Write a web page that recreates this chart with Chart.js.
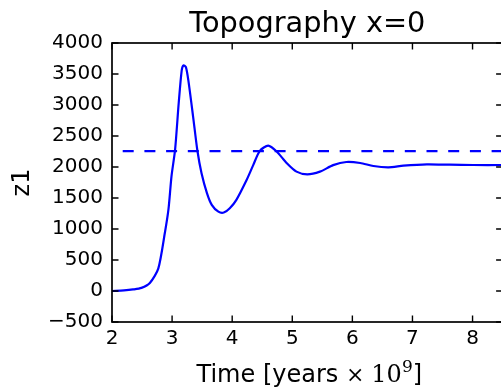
<!DOCTYPE html>
<html>
<head>
<meta charset="utf-8">
<script src="https://cdn.jsdelivr.net/npm/chart.js@4/dist/chart.umd.min.js"></script>
<style>
  html, body { margin: 0; padding: 0; background: #ffffff; overflow: hidden; }
  #wrap { width: 510px; height: 389px; }
</style>
</head>
<body>
<div id="wrap"><canvas id="c" width="510" height="389"></canvas></div>
<script>
// Surface elevation z1 at x=0 over time (Gyr)
const times = [2.00, 2.20, 2.35, 2.49, 2.63, 2.77, 2.88, 2.94, 2.99, 3.05,
               3.11, 3.16, 3.19, 3.23, 3.27, 3.35, 3.42, 3.49, 3.58, 3.66,
               3.77, 3.86, 3.96, 4.07, 4.24, 4.35, 4.46, 4.60, 4.74, 4.91,
               5.07, 5.25, 5.46, 5.68, 5.90, 6.13, 6.35, 6.60, 6.85, 7.24,
               7.62, 8.01, 8.50];
const z1 = [0, 10, 25, 50, 130, 360, 940, 1320, 1850, 2280,
            3030, 3560, 3640, 3610, 3400, 2810, 2270, 1900, 1580, 1390,
            1280, 1265, 1335, 1470, 1790, 2030, 2260, 2345, 2250, 2060,
            1925, 1882, 1925, 2030, 2081, 2065, 2016, 1995, 2021, 2043,
            2037, 2032, 2032];
const refLevel = 2255;      // reference elevation (dashed)
const xRange = [2, 8.5];
const yRange = [-500, 4000];
const xTicks = [2, 3, 4, 5, 6, 7, 8];
const yTicks = [-500, 0, 500, 1000, 1500, 2000, 2500, 3000, 3500, 4000];

const titleText = 'Topography x=0';
const yLabel = 'z1';

const SANS = '"DejaVu Sans", sans-serif';
const SERIF = '"DejaVu Serif", serif';

// Inward tick marks on all four sides plus the axes frame
const framePlugin = {
  id: 'frame',
  afterDatasetsDraw(chart) {
    const { ctx, chartArea: a, scales } = chart;
    const len = 6.5;
    ctx.save();
    ctx.strokeStyle = '#000000';
    ctx.lineWidth = 1.4;
    ctx.beginPath();
    xTicks.forEach(v => {
      const px = scales.x.getPixelForValue(v);
      ctx.moveTo(px, a.bottom); ctx.lineTo(px, a.bottom - len);
      ctx.moveTo(px, a.top); ctx.lineTo(px, a.top + len);
    });
    yTicks.forEach(v => {
      const py = scales.y.getPixelForValue(v);
      ctx.moveTo(a.left, py); ctx.lineTo(a.left + len, py);
      ctx.moveTo(a.right, py); ctx.lineTo(a.right - len, py);
    });
    ctx.stroke();
    ctx.lineWidth = 1.7;
    ctx.strokeRect(a.left, a.top, a.right - a.left, a.bottom - a.top);
    ctx.restore();
  }
};

// Title above the axes and the x-axis label with its math part
const textPlugin = {
  id: 'texts',
  afterDraw(chart) {
    const { ctx, chartArea: a } = chart;
    const cx = (a.left + a.right) / 2;
    ctx.save();
    ctx.fillStyle = '#000000';
    ctx.textBaseline = 'alphabetic';

    ctx.font = '28.8px ' + SANS;
    ctx.textAlign = 'center';
    ctx.fillText(titleText, cx, 32);

    ctx.textAlign = 'left';
    const parts = [
      { t: 'Time [years ', f: '24px ' + SANS, dy: 0 },
      { t: '\u00d7 ', f: '22px ' + SERIF, dy: 0 },
      { t: '10', f: '24px ' + SERIF, dy: 0 },
      { t: '9', f: '17px ' + SERIF, dy: -10 },
      { t: ']', f: '24px ' + SANS, dy: 0 }
    ];
    let total = 0;
    parts.forEach(p => { ctx.font = p.f; p.w = ctx.measureText(p.t).width; total += p.w; });
    let x = cx + 2 - total / 2;
    const base = 382;
    parts.forEach(p => {
      ctx.font = p.f;
      ctx.fillText(p.t, x, base + p.dy);
      x += p.w;
    });
    ctx.restore();
  }
};

const fmt = v => (v < 0 ? '\u2212' + Math.abs(v) : String(v));

new Chart(document.getElementById('c'), {
  type: 'line',
  data: {
    datasets: [
      {
        data: times.map((t, i) => ({ x: t, y: z1[i] })),
        borderColor: '#0000ff',
        borderWidth: 2.2,
        pointRadius: 0,
        tension: 0.25,
        fill: false
      },
      {
        data: [{ x: xRange[0], y: refLevel }, { x: xRange[1], y: refLevel }],
        borderColor: '#0000ff',
        borderWidth: 2.2,
        borderDash: [11, 10.7],
        borderDashOffset: 11,
        pointRadius: 0,
        fill: false
      }
    ]
  },
  options: {
    responsive: false,
    animation: false,
    events: [],
    layout: { padding: { top: 43, right: 7.4, left: 0, bottom: 0 } },
    plugins: { legend: { display: false }, tooltip: { enabled: false }, title: { display: false } },
    scales: {
      x: {
        type: 'linear',
        min: xRange[0], max: xRange[1],
        afterBuildTicks: s => { s.ticks = xTicks.map(v => ({ value: v })); },
        afterFit: s => { s.height = 67; },
        grid: { display: false, drawTicks: false },
        border: { display: false },
        ticks: {
          padding: 4.4,
          color: '#000000',
          font: { family: SANS, size: 20 },
          maxRotation: 0,
          callback: v => fmt(v)
        }
      },
      y: {
        type: 'linear',
        min: yRange[0], max: yRange[1],
        afterBuildTicks: s => { s.ticks = yTicks.map(v => ({ value: v })); },
        afterFit: s => { s.width = 112; },
        grid: { display: false, drawTicks: false },
        border: { display: false },
        title: {
          display: true,
          text: yLabel,
          color: '#000000',
          font: { family: SANS, size: 24 },
          padding: { top: 8, bottom: 0 }
        },
        ticks: {
          padding: 9,
          color: '#000000',
          font: { family: SANS, size: 20 },
          callback: v => fmt(v)
        }
      }
    }
  },
  plugins: [framePlugin, textPlugin]
});
</script>
</body>
</html>
